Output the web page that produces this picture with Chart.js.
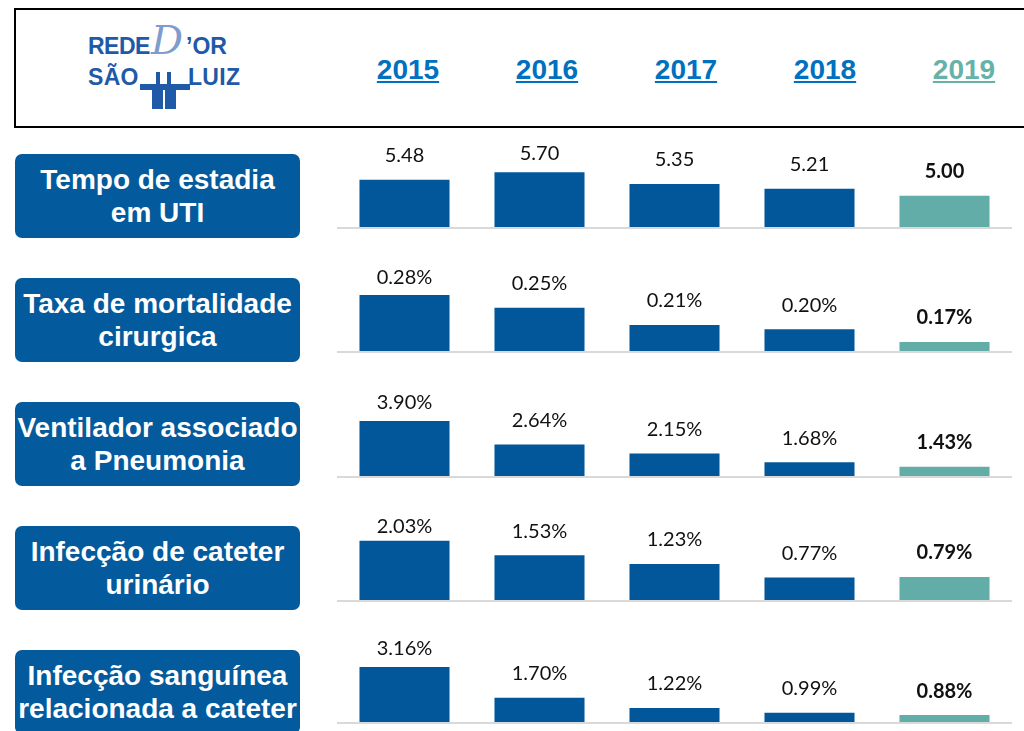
<!DOCTYPE html>
<html>
<head>
<meta charset="utf-8">
<script src="https://cdn.jsdelivr.net/npm/chart.js@4.4.0/dist/chart.umd.min.js"></script>
<style>
  html, body { margin: 0; padding: 0; background: #fff; }
  body { width: 1024px; height: 731px; position: relative; overflow: hidden; font-family: 'Liberation Sans', Arial, sans-serif; }
  .header { position: absolute; left: 14px; top: 8px; width: 1030px; height: 120px; box-sizing: border-box; border: 2px solid #000; }
  .year { position: absolute; top: 56px; width: 100px; text-align: center; font: bold 28px/28px 'Liberation Sans', Arial, sans-serif; text-decoration: underline; text-decoration-thickness: 2px; text-underline-offset: 2px; }
  .lbl { position: absolute; left: 15px; width: 285px; height: 84px; background: #035a9c; border-radius: 7px; color: #fff; display: flex; align-items: center; justify-content: center; text-align: center; font: bold 28px/33px 'Liberation Sans', Arial, sans-serif; white-space: pre; }
  .row { position: absolute; left: 337px; }
  .logo { position: absolute; color: #1f5aa8; white-space: nowrap; }
  .cross { position: absolute; background: #1f5aa8; }
</style>
</head>
<body>
<div class="header"></div>

<!-- logo -->
<div class="logo" style="left:88px; top:35px; font: bold 23px/23px 'Liberation Sans', Arial, sans-serif; letter-spacing:-0.5px;">REDE</div>
<div class="logo" style="left:151px; top:20px; font: italic 40px/40px 'DejaVu Serif', serif; color:#7f9dcc; font-weight:200;">D</div>
<div class="logo" style="left:186px; top:35px; font: bold 23px/23px 'Liberation Sans', Arial, sans-serif;">’OR</div>
<div class="logo" style="left:88px; top:66px; font: 900 23px/23px 'Liberation Sans', Arial, sans-serif; letter-spacing:0.3px;">SÃO</div>
<div class="logo" style="left:188px; top:66px; font: 900 23px/23px 'Liberation Sans', Arial, sans-serif; letter-spacing:0.3px;">LUIZ</div>
<div class="cross" style="left:140px; top:84px; width:50px; height:6px;"></div>
<div class="cross" style="left:156px; top:72px; width:4px; height:12px;"></div>
<div class="cross" style="left:167px; top:72px; width:4px; height:12px;"></div>
<div class="cross" style="left:152px; top:90px; width:11px; height:19px;"></div>
<div class="cross" style="left:165px; top:90px; width:11px; height:19px;"></div>

<div id="years"></div>
<div id="labels"></div>
<div id="rows"></div>

<script>
// years / indicators
var years = ['2015', '2016', '2017', '2018', '2019'];
var indicators = [
  'Tempo de estadia\nem UTI',
  'Taxa de mortalidade\ncirurgica',
  'Ventilador associado\na Pneumonia',
  'Infecção de cateter\nurinário',
  'Infecção sanguínea\nrelacionada a cateter'
];

// values per indicator
var tempoUti        = [5.48, 5.70, 5.35, 5.21, 5.00];
var mortalidade     = [0.28, 0.25, 0.21, 0.20, 0.17];
var pneumonia       = [3.90, 2.64, 2.15, 1.68, 1.43];
var cateterUrinario = [2.03, 1.53, 1.23, 0.77, 0.79];
var sanguinea       = [3.16, 1.70, 1.22, 0.99, 0.88];

var suffixes = ['', '%', '%', '%', '%'];
// axis ranges (the original charts don't start at zero)
var axisMin = [4.06, 0.149, 0.93, 0, 0.55];
var axisMax = [7.06, 0.383, 6.34, 3.42, 5.30];

var series = [tempoUti, mortalidade, pneumonia, cateterUrinario, sanguinea];

var blue = '#02579b';
var teal = '#62ada7';

// header years
var yearX = [408, 547, 686, 825, 964];
var yearsDiv = document.getElementById('years');
years.forEach(function(y, i) {
  var d = document.createElement('div');
  d.className = 'year';
  d.style.left = (yearX[i] - 50) + 'px';
  d.style.color = i == 4 ? '#66b2a9' : '#0070c0';
  d.textContent = y;
  yearsDiv.appendChild(d);
});

// label boxes
var boxTop = [154, 278, 402, 526, 650];
var labelsDiv = document.getElementById('labels');
indicators.forEach(function(t, i) {
  var d = document.createElement('div');
  d.className = 'lbl';
  d.style.top = boxTop[i] + 'px';
  d.textContent = t;
  labelsDiv.appendChild(d);
});

// draws value labels above bars + grey baseline
var valueLabels = {
  id: 'valueLabels',
  afterDatasetsDraw: function(chart) {
    var ctx = chart.ctx;
    var area = chart.chartArea;
    var suffix = chart.options.plugins.valueLabels.suffix;
    ctx.save();
    ctx.strokeStyle = '#d9d9d9';
    ctx.lineWidth = 2;
    ctx.beginPath();
    ctx.moveTo(area.left, area.bottom + 1);
    ctx.lineTo(area.right, area.bottom + 1);
    ctx.stroke();

    var meta = chart.getDatasetMeta(0);
    var data = chart.data.datasets[0].data;
    ctx.fillStyle = '#111';
    ctx.textAlign = 'center';
    ctx.textBaseline = 'middle';
    meta.data.forEach(function(bar, i) {
      ctx.font = (i == 4 ? 'bold ' : '') + '20px Lato, sans-serif';
      var y = Math.max(area.top + 27, bar.y - 24);
      ctx.fillText(data[i].toFixed(2) + suffix, bar.x, y);
    });
    ctx.restore();
  }
};

var baselines = [227, 351, 476, 600, 722];
var rowsDiv = document.getElementById('rows');
series.forEach(function(values, r) {
  var c = document.createElement('canvas');
  c.className = 'row';
  c.width = 675;
  c.height = 103;
  c.style.top = (baselines[r] - 100) + 'px';
  rowsDiv.appendChild(c);

  new Chart(c.getContext('2d'), {
    type: 'bar',
    data: {
      labels: years,
      datasets: [{
        data: values,
        backgroundColor: [blue, blue, blue, blue, teal],
        borderWidth: 0,
        categoryPercentage: 0.667,
        barPercentage: 1.0
      }]
    },
    options: {
      responsive: false,
      animation: false,
      layout: { padding: { top: 0, bottom: 3, left: 0, right: 0 } },
      scales: {
        x: { display: false },
        y: { display: false, min: axisMin[r], max: axisMax[r] }
      },
      plugins: {
        legend: { display: false },
        tooltip: { enabled: false },
        valueLabels: { suffix: suffixes[r] }
      }
    },
    plugins: [valueLabels]
  });
});
</script>
</body>
</html>
